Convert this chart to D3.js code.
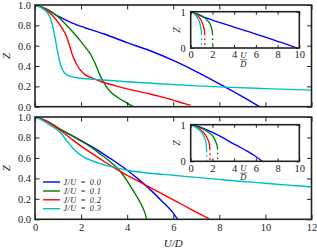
<!DOCTYPE html>
<html><head><meta charset="utf-8">
<script src="https://cdn.jsdelivr.net/npm/d3@7"></script>
<style>
html,body{margin:0;padding:0;background:#fff;}
svg{display:block;}
text{font-family:"Liberation Serif","DejaVu Serif",serif;fill:#222;}
</style></head><body>
<script>
// ---------------- data ----------------
const seriesLabels = ["0.0","0.1","0.2","0.3"];
const colors = ["#0000ff","#008000","#ff0000","#00bfbf"];
const mainXTicks = [0,2,4,6,8,10,12];
const mainYTicks = [0,0.2,0.4,0.6,0.8,1.0];
const insetXTicks = [0,2,4,6,8,10];
const insetYTicks = [0,1];

// top main panel  [U/D, Z]
const topJ00 = [[0,1],[0.5,0.96],[1,0.89],[1.5,0.835],[2,0.79],[3,0.715],[4,0.63],[5,0.55],[6,0.455],[7,0.345],[8,0.225],[9,0.1],[9.75,0]];
const topJ01 = [[0,1],[0.5,0.96],[1,0.885],[1.37,0.80],[1.7,0.72],[2.0,0.64],[2.2,0.58],[2.4,0.52],[2.6,0.43],[2.8,0.32],[2.95,0.25],[3.26,0.15],[3.6,0.09],[4.0,0.035],[4.27,0]];
const topJ02 = [[0,1],[0.5,0.95],[0.9,0.86],[1.15,0.78],[1.37,0.69],[1.5,0.60],[1.62,0.51],[1.78,0.43],[1.97,0.36],[2.2,0.31],[2.5,0.28],[2.82,0.25],[3.5,0.205],[4.27,0.16],[5,0.125],[5.43,0.10],[6,0.065],[6.5,0.03],[6.75,0.015]];
const topJ03 = [[0,1],[0.3,0.97],[0.55,0.92],[0.7,0.85],[0.8,0.76],[0.9,0.64],[1.0,0.52],[1.1,0.42],[1.2,0.36],[1.35,0.32],[1.6,0.295],[2.0,0.28],[2.8,0.265],[4,0.245],[5.4,0.225],[7,0.205],[8.5,0.19],[10,0.178],[12,0.163]];

// bottom main panel
const botJ00 = [[0,1],[0.5,0.96],[1,0.89],[1.5,0.83],[2,0.77],[2.5,0.705],[3,0.635],[3.5,0.56],[4,0.48],[4.5,0.39],[5,0.29],[5.5,0.18],[6,0.06],[6.19,0]];
const botJ01 = [[0,1],[0.5,0.96],[1,0.895],[1.5,0.83],[2,0.765],[2.5,0.695],[2.82,0.64],[3.2,0.575],[3.5,0.515],[3.8,0.44],[4.1,0.34],[4.4,0.23],[4.6,0.15],[4.75,0.075],[4.85,0]];
const botJ02 = [[0,1],[0.5,0.96],[1,0.885],[1.5,0.80],[2,0.715],[2.5,0.64],[3,0.565],[3.5,0.495],[4,0.43],[4.5,0.37],[5,0.31],[5.5,0.25],[6,0.19],[6.5,0.13],[7,0.07],[7.56,0.005]];
const botJ03 = [[0,1],[0.3,0.97],[0.65,0.92],[1.09,0.85],[1.37,0.77],[1.66,0.69],[2.1,0.61],[2.5,0.57],[2.82,0.545],[3.5,0.505],[4,0.48],[5,0.45],[6,0.43],[7,0.41],[8,0.39],[9,0.37],[10,0.352],[11,0.334],[12,0.316]];

// top inset (solid part; a dotted drop to Z=0 follows the last point)
const inTopJ00 = [[0,1],[0.5,0.95],[1,0.88],[1.5,0.82],[2,0.77],[3,0.67],[4,0.575],[5,0.48],[6,0.385],[7,0.285],[8,0.185],[9,0.085],[9.8,0]];
const inTopJ01 = [[0,1],[0.6,0.94],[1.16,0.86],[1.5,0.77],[1.78,0.66],[1.92,0.55],[1.99,0.45],[2.02,0.35]];
const inTopJ02 = [[0,1],[0.5,0.92],[0.85,0.82],[1.05,0.70],[1.2,0.56],[1.27,0.45],[1.3,0.35]];
const inTopJ03 = [[0,1],[0.4,0.92],[0.65,0.82],[0.82,0.70],[0.93,0.56],[0.98,0.45],[1.0,0.35]];
// bottom inset
const inBotJ00 = [[0,1],[1,0.92],[2,0.79],[3,0.64],[4,0.47],[5,0.31],[6,0.13],[6.6,0]];
const inBotJ01 = [[0,1],[1,0.9],[1.6,0.8],[2.1,0.66],[2.35,0.5],[2.45,0.4],[2.48,0.32]];
const inBotJ02 = [[0,1],[0.8,0.88],[1.3,0.74],[1.6,0.58],[1.73,0.45],[1.78,0.3]];
const inBotJ03 = [[0,1],[0.7,0.88],[1.15,0.72],[1.37,0.56],[1.44,0.42],[1.47,0.25]];

// ---------------- drawing ----------------
const W = 317, H = 250;
const svg = d3.select("body").append("svg").attr("width", W).attr("height", H);
const frameColor = "#222";
const fs = 10.5;

function panel(opts){
  const {x, y, series, solidEnd, tickLen, xTicks, yTicks, xLabels, fontSize, inset} = opts;
  const g = svg.append("g");
  const [x0,x1] = x.range(), [y0,y1] = y.range();
  if (inset) g.append("rect").attr("x",x0).attr("y",y1).attr("width",x1-x0).attr("height",y0-y1).attr("fill","#fff");
  const clipId = "c"+Math.random().toString(36).slice(2);
  g.append("clipPath").attr("id",clipId).append("rect").attr("x",x0).attr("y",y1).attr("width",x1-x0).attr("height",y0-y1);
  const line = d3.line().x(d=>x(d[0])).y(d=>y(d[1])).curve(d3.curveMonotoneX);
  const lg = g.append("g").attr("clip-path",`url(#${clipId})`);
  series.forEach((s,i)=>{
    lg.append("path").attr("d",line(s)).attr("fill","none").attr("stroke",colors[i])
      .attr("stroke-width", inset?1.3:1.4).attr("stroke-linejoin","round");
    if (solidEnd) {
      const last = s[s.length-1];
      if (last[1] > 0.01) {
        lg.append("path").attr("d", d3.line().x(d=>x(d[0])).y(d=>y(d[1]))([last,[last[0],0]]))
          .attr("fill","none").attr("stroke",colors[i]).attr("stroke-width",1.3)
          .attr("stroke-dasharray","1.6,3.4").attr("stroke-dashoffset",-3);
      }
    }
  });
  const ax = (gen, tr) => g.append("g").attr("transform",tr).call(gen)
      .call(a=>a.select(".domain").remove())
      .call(a=>a.selectAll("line").attr("stroke",frameColor).attr("stroke-width",1));
  const bottom = ax(d3.axisBottom(x).tickValues(xTicks).tickSize(-tickLen).tickPadding(0)
       .tickFormat(xLabels?d3.format("d"):""), `translate(0,${y0})`);
  bottom.selectAll("text").attr("font-size",fontSize).attr("y", inset?3:4).attr("dy","0.71em");
  ax(d3.axisTop(x).tickValues(xTicks).tickSize(-tickLen).tickFormat(""), `translate(0,${y1})`);
  const left = ax(d3.axisLeft(y).tickValues(yTicks).tickSize(-tickLen).tickPadding(0)
       .tickFormat(inset?d3.format("d"):d3.format(".1f")), `translate(${x0},0)`);
  left.selectAll("text").attr("font-size",fontSize).attr("x", inset?-5:-4);
  ax(d3.axisRight(y).tickValues(yTicks).tickSize(-tickLen).tickFormat(""), `translate(${x1},0)`);
  g.selectAll(".tick text").attr("font-family","Liberation Serif, serif").attr("fill","#222");
  g.append("rect").attr("x",x0).attr("y",y1).attr("width",x1-x0).attr("height",y0-y1)
    .attr("fill","none").attr("stroke",frameColor).attr("stroke-width",1.6);
  return g;
}

const xMain = d3.scaleLinear().domain([0,12]).range([35,311.5]);
const yTop = d3.scaleLinear().domain([0,1]).range([106.7,5]);
const yBot = d3.scaleLinear().domain([0,1]).range([219.3,117]);
const xIn = d3.scaleLinear().domain([0,10]).range([190.7,299.3]);
const yInTop = d3.scaleLinear().domain([0,1]).range([48,11.7]);
const yInBot = d3.scaleLinear().domain([0,1]).range([161.3,124.7]);

panel({x:xMain,y:yTop,series:[topJ00,topJ01,topJ02,topJ03],tickLen:4.5,xTicks:mainXTicks,yTicks:mainYTicks,xLabels:false,fontSize:fs});
panel({x:xMain,y:yBot,series:[botJ00,botJ01,botJ02,botJ03],tickLen:4.5,xTicks:mainXTicks,yTicks:mainYTicks,xLabels:true,fontSize:fs});
panel({x:xIn,y:yInTop,series:[inTopJ00,inTopJ01,inTopJ02,inTopJ03],solidEnd:true,tickLen:3,xTicks:insetXTicks,yTicks:insetYTicks,xLabels:true,fontSize:fs,inset:true});
panel({x:xIn,y:yInBot,series:[inBotJ00,inBotJ01,inBotJ02,inBotJ03],solidEnd:true,tickLen:3,xTicks:insetXTicks,yTicks:insetYTicks,xLabels:true,fontSize:fs,inset:true});

function zLabel(cx, cy, size){
  svg.append("text").attr("transform",`translate(${cx},${cy}) rotate(-90)`).attr("text-anchor","middle")
    .attr("font-size",size).attr("font-style","italic").attr("dy","0.35em").text("Z");
}
zLabel(6, yTop(0.5), 11);
zLabel(6, yBot(0.5), 11);
zLabel(176.5, yInTop(0.5), 10);
zLabel(176.5, yInBot(0.5), 10);

const xl = svg.append("text").attr("x",(xMain.range()[0]+xMain.range()[1])/2).attr("y",247)
  .attr("text-anchor","middle").attr("font-size",11).attr("font-style","italic").text("U/D");

function frac(cx, top){
  svg.append("text").attr("x",cx).attr("y",top+6.5).attr("text-anchor","middle").attr("font-size",8.5).attr("font-style","italic").text("U");
  svg.append("line").attr("x1",cx-3.5).attr("x2",cx+3.5).attr("y1",top+8.3).attr("y2",top+8.3).attr("stroke","#222").attr("stroke-width",0.6);
  svg.append("text").attr("x",cx).attr("y",top+15.5).attr("text-anchor","middle").attr("font-size",8.5).attr("font-style","italic").text("D");
}
frac(xIn(4.85), yInTop(0)+3.5);
frac(xIn(4.85), yInBot(0)+3.5);

// legend
const legY = [182,191,199.8,208.7];
const leg = svg.append("g");
seriesLabels.forEach((lab,i)=>{
  leg.append("line").attr("x1",43).attr("x2",60).attr("y1",legY[i]).attr("y2",legY[i])
    .attr("stroke",colors[i]).attr("stroke-width",1.4);
  leg.append("text").attr("x",63.5).attr("y",legY[i]).attr("dy","0.33em").attr("font-size",8.2)
    .attr("font-style","italic").attr("letter-spacing",0.45).attr("word-spacing",1)
    .text("J/U = " + lab);
});
</script>
</body></html>
